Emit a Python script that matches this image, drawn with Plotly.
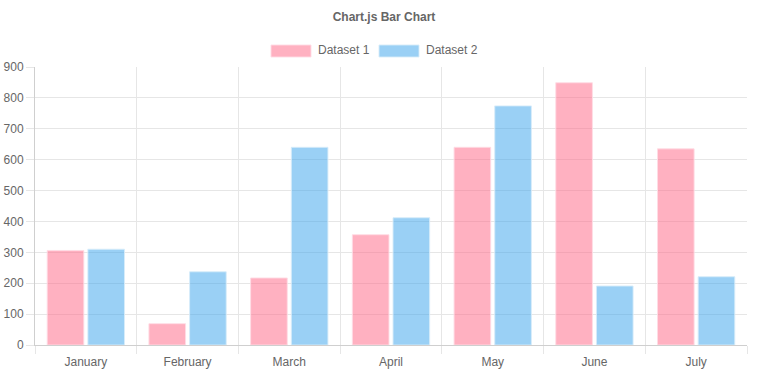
import plotly.graph_objects as go

months = ["January", "February", "March", "April", "May", "June", "July"]
series_names = ["Dataset 1", "Dataset 2"]
dataset1 = [306, 69, 217, 357, 640, 849, 635]
dataset2 = [310, 237, 640, 412, 774, 191, 221]
fills = ["rgba(255,99,132,0.5)", "rgba(54,162,235,0.5)"]
borders = ["rgba(255,220,228,0.9)", "rgba(215,236,250,0.9)"]

W, H = 768, 382
L, R, T, B = 35, 21, 67, 37
pw, ph = W - L - R, H - T - B

def px_x(px):
    return (px - L) / pw

def px_y(py):
    return (H - B - py) / ph

fig = go.Figure()
for name, vals, fc, bc in zip(series_names, [dataset1, dataset2], fills, borders):
    fig.add_trace(go.Bar(x=months, y=vals, name=name,
                         marker=dict(color=fc, line=dict(color=bc, width=1)),
                         showlegend=False))

font = "Liberation Sans, Arial, Helvetica, sans-serif"
fig.update_layout(
    width=W, height=H,
    margin=dict(l=L, r=R, t=T, b=B, pad=0, autoexpand=False),
    paper_bgcolor="white", plot_bgcolor="white",
    barmode="group", bargap=0.2, bargroupgap=0.1,
    font=dict(family=font, size=12, color="#666"),
    title=dict(text="<b>Chart.js Bar Chart</b>", x=0.5, xref="container",
               y=1 - 17 / H, yref="container", yanchor="middle", xanchor="center",
               font=dict(size=12, color="#666", family=font)),
    xaxis=dict(type="category", tickson="boundaries", showgrid=True,
               gridcolor="#e6e6e6", gridwidth=1, ticks="outside", ticklen=8,
               tickcolor="#e6e6e6", showline=True, linecolor="#cfcfcf",
               automargin=False, ticklabelstandoff=6,
               tickfont=dict(size=12, color="#666")),
    yaxis=dict(range=[0, 900], dtick=100, showgrid=True, gridcolor="#e6e6e6",
               ticks="outside", ticklen=8, tickcolor="#e6e6e6", showline=True,
               linecolor="#cfcfcf", zeroline=False, automargin=False,
               tickfont=dict(size=12, color="#666")),
)

# legend drawn as boxes + labels
legend_boxes = [(271, 311, 316), (379, 419, 424)]
for (x0, x1, tx), name, fc, bc in zip(legend_boxes, series_names, fills, borders):
    fig.add_shape(type="rect", xref="paper", yref="paper",
                  x0=px_x(x0), x1=px_x(x1), y0=px_y(57), y1=px_y(45),
                  fillcolor=fc, line=dict(color=bc, width=1))
    fig.add_annotation(text=name, xref="paper", yref="paper", x=px_x(tx), y=px_y(50.5),
                       xanchor="left", yanchor="middle", showarrow=False,
                       font=dict(size=12, color="#666", family=font))

fig.write_html("out.html", config={"displayModeBar": False},
               post_script="document.body.style.margin='0';")
